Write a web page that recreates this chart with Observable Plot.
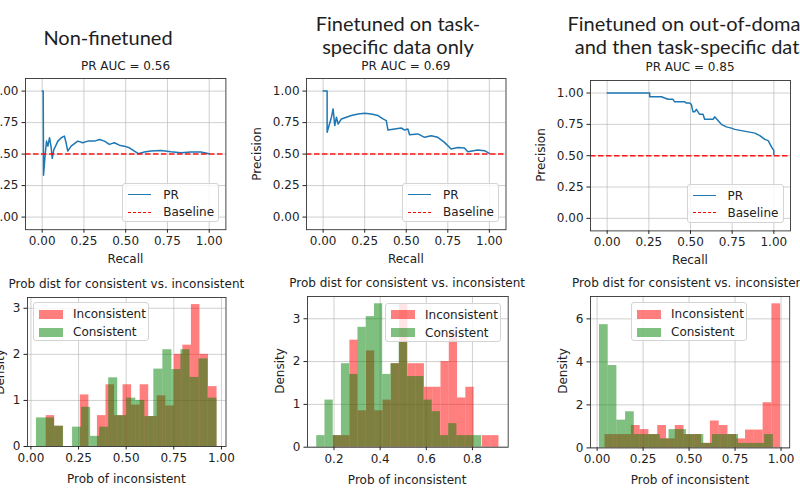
<!DOCTYPE html>
<html><head><meta charset="utf-8">
<script src="https://cdn.jsdelivr.net/npm/d3@7"></script>
<script src="https://cdn.jsdelivr.net/npm/@observablehq/plot@0.6"></script>
<style>
body{margin:0;background:#fff;}
#root{position:relative;width:800px;height:500px;overflow:hidden;font-family:"DejaVu Sans";background:#fff;}
.t{position:absolute;white-space:nowrap;font-size:12px;color:#222;transform:translate(-50%,-50%);line-height:1;}
.ty{position:absolute;white-space:nowrap;font-size:12px;color:#222;transform:translate(-50%,-50%) rotate(-90deg);line-height:1;}
.big{position:absolute;white-space:nowrap;font-family:Lato;font-size:20px;color:#1e1e1e;transform:translate(-50%,-50%);line-height:1;}
.leg{position:absolute;background:rgba(255,255,255,0.8);border:1px solid #d4d4d4;border-radius:3px;box-sizing:border-box;}
.leg .lt{position:absolute;font-size:12px;color:#222;white-space:nowrap;line-height:1;transform:translateY(-50%);}
.leg .ls{position:absolute;}
</style></head>
<body><div id="root"></div>
<script>
// ---------- Data ----------
const panelTitles = [["Non-finetuned"], ["Finetuned on task-", "specific data only"], ["Finetuned on out-of-domain", "and then task-specific data"]];
const aucLabels = ["PR AUC = 0.56", "PR AUC = 0.69", "PR AUC = 0.85"];
const histTitle = "Prob dist for consistent vs. inconsistent";
const prLegendLabels = ["PR", "Baseline"];
const histLegendLabels = ["Inconsistent", "Consistent"];
const baseline = 0.5;

const pr1Recall = [0, 0.006, 0.008, 0.018, 0.026, 0.034, 0.044, 0.054, 0.06, 0.07, 0.08, 0.094, 0.114, 0.133, 0.143, 0.153, 0.173, 0.213, 0.243, 0.273, 0.313, 0.343, 0.373, 0.402, 0.432, 0.462, 0.492, 0.522, 0.552, 0.576, 0.612, 0.651, 0.711, 0.771, 0.831, 0.89, 0.95, 1.0];
const pr1Precision = [1.0, 1.0, 0.333, 0.5, 0.603, 0.563, 0.63, 0.55, 0.466, 0.537, 0.563, 0.603, 0.63, 0.643, 0.59, 0.524, 0.563, 0.603, 0.59, 0.603, 0.603, 0.616, 0.603, 0.577, 0.59, 0.571, 0.563, 0.55, 0.524, 0.503, 0.516, 0.524, 0.529, 0.519, 0.511, 0.516, 0.516, 0.503];

const pr2Recall = [0, 0.024, 0.024, 0.05, 0.06, 0.07, 0.08, 0.09, 0.11, 0.14, 0.17, 0.21, 0.25, 0.29, 0.33, 0.36, 0.38, 0.39, 0.43, 0.47, 0.49, 0.51, 0.52, 0.57, 0.61, 0.65, 0.69, 0.73, 0.77, 0.81, 0.85, 0.87, 0.93, 0.97, 1.0];
const pr2Precision = [1.0, 1.0, 0.673, 0.793, 0.859, 0.726, 0.793, 0.739, 0.779, 0.793, 0.806, 0.819, 0.824, 0.819, 0.806, 0.779, 0.766, 0.691, 0.699, 0.707, 0.691, 0.699, 0.654, 0.66, 0.633, 0.646, 0.633, 0.593, 0.54, 0.553, 0.548, 0.519, 0.532, 0.527, 0.505];

const pr3Recall = [0, 0.255, 0.255, 0.325, 0.345, 0.365, 0.395, 0.405, 0.465, 0.475, 0.495, 0.505, 0.515, 0.525, 0.535, 0.555, 0.575, 0.585, 0.635, 0.645, 0.665, 0.685, 0.715, 0.745, 0.766, 0.806, 0.846, 0.886, 0.916, 0.946, 0.966, 0.986, 1.0, 1.0];
const pr3Precision = [1.0, 1.0, 0.97, 0.97, 0.96, 0.95, 0.95, 0.93, 0.93, 0.92, 0.92, 0.91, 0.85, 0.85, 0.87, 0.83, 0.83, 0.79, 0.79, 0.81, 0.78, 0.75, 0.73, 0.72, 0.71, 0.70, 0.69, 0.68, 0.66, 0.63, 0.62, 0.57, 0.54, 0.51];

// histogram densities (bin range + bar heights)
const h1IncRange = [0.080, 0.977];
const h1Inc = [0.67, 0.44, 0, 0, 1.12, 0, 0.67, 1.34, 0.67, 1.34, 0.9, 1.34, 0.65, 1.1, 0.88, 2.0, 2.2, 3.08, 2.0, 1.3];
const h1ConRange = [0.029, 0.977];
const h1Con = [0.62, 0.62, 0.44, 0, 0.42, 0.85, 0.22, 0.42, 1.49, 0.67, 1.05, 1.0, 0.65, 1.68, 2.1, 1.67, 2.1, 1.5, 1.9, 1.05];

const h2IncRange = [0.197, 0.915];
const h2Inc = [0.27, 0.27, 2.5, 0.85, 2.25, 0.85, 1.1, 1.95, 3.35, 1.95, 1.95, 1.4, 1.4, 2.0, 2.7, 1.15, 1.4, 0, 0.27, 0.27];
const h2ConRange = [0.125, 0.840];
const h2Con = [0.27, 1.1, 0.27, 1.95, 1.7, 2.8, 3.05, 3.35, 1.7, 1.95, 2.45, 1.65, 1.65, 1.1, 0.83, 0.27, 0.55, 0.27, 0.27, 0.27];

const h3IncRange = [0.043, 0.998];
const h3Inc = [0.62, 0.62, 0.62, 1.04, 0.85, 0.62, 1.04, 0.42, 1.04, 0.62, 0.62, 0.21, 1.25, 1.04, 0.62, 0.42, 0.83, 0.83, 2.1, 6.7];
const h3ConRange = [0.013, 0.958];
const h3Con = [5.73, 3.83, 1.29, 1.68, 0.62, 0.62, 0.62, 0.42, 0.85, 0.85, 0.62, 0.62, 0.21, 0.62, 0.62, 0.62, 0.21, 0.21, 0.21, 0.62];

const prTicks = [0, 0.25, 0.5, 0.75, 1];
const h13XTicks = [0, 0.25, 0.5, 0.75, 1];
const h2XTicks = [0.2, 0.4, 0.6, 0.8];
const h12YTicks = [0, 1, 2, 3];
const h3YTicks = [0, 2, 4, 6];

// ---------- Helpers ----------
const root = document.getElementById("root");
const BLUE = "#1f77b4";
function bins(heights, range) {
  const w = (range[1] - range[0]) / heights.length;
  return heights.map((h, i) => ({x1: range[0] + i * w, x2: range[0] + (i + 1) * w, y: h})).filter(d => d.y > 0);
}
function table(xs, ys) { return xs.map((x, i) => ({x, y: ys[i]})); }

function addPlot(frame, o, marks) {
  const [x0, y0, x1, y1] = frame;
  const ml = 50, mr = 10, mt = 10, mb = 30;
  const svg = Plot.plot({
    width: x1 - x0 + ml + mr, height: y1 - y0 + mt + mb,
    marginLeft: ml, marginRight: mr, marginTop: mt, marginBottom: mb,
    style: {fontFamily: "DejaVu Sans", fontSize: "12px", color: "#222", background: "transparent", overflow: "visible"},
    x: {domain: o.xDomain}, y: {domain: o.yDomain},
    marks: [
      Plot.gridX(o.xTicks, {stroke: "#b0b0b0", strokeOpacity: 0.75, strokeWidth: 0.8}),
      Plot.gridY(o.yTicks, {stroke: "#b0b0b0", strokeOpacity: 0.75, strokeWidth: 0.8}),
      ...marks,
      Plot.frame({stroke: "#333", strokeWidth: 0.9}),
      Plot.axisX(o.xTicks, {tickSize: 3.5, tickPadding: 3.5, tickFormat: o.xFmt, label: null, fontSize: 12}),
      Plot.axisY(o.yTicks, {tickSize: 3.5, tickPadding: 3.5, tickFormat: o.yFmt, label: null, fontSize: 12})
    ]
  });
  svg.style.position = "absolute";
  svg.style.left = (x0 - ml) + "px";
  svg.style.top = (y0 - mt) + "px";
  root.appendChild(svg);
}
function text(cls, s, x, y) {
  const d = document.createElement("div"); d.className = cls; d.textContent = s;
  d.style.left = x + "px"; d.style.top = y + "px"; root.appendChild(d);
}
function prLegend(left, top) {
  const d = document.createElement("div"); d.className = "leg";
  Object.assign(d.style, {left: left + "px", top: top + "px", width: "97px", height: "39px"});
  const rows = [{y: 11, style: "border-top:1.5px solid " + BLUE}, {y: 28.5, style: "border-top:1.5px dashed red"}];
  rows.forEach((r, i) => {
    const s = document.createElement("div"); s.className = "ls";
    s.style.cssText = `left:5px;top:${r.y - 0.75}px;width:23px;height:0;${r.style}`;
    d.appendChild(s);
    const t = document.createElement("div"); t.className = "lt"; t.textContent = prLegendLabels[i];
    t.style.left = "40px"; t.style.top = r.y + "px"; d.appendChild(t);
  });
  root.appendChild(d);
}
function histLegend(left, top) {
  const d = document.createElement("div"); d.className = "leg";
  Object.assign(d.style, {left: left + "px", top: top + "px", width: "116px", height: "39px"});
  const cols = ["rgba(255,0,0,0.5)", "rgba(0,128,0,0.5)"];
  [11, 29].forEach((y, i) => {
    const s = document.createElement("div"); s.className = "ls";
    s.style.cssText = `left:5px;top:${y - 4.5}px;width:24px;height:9px;background:${cols[i]};`;
    d.appendChild(s);
    const t = document.createElement("div"); t.className = "lt"; t.textContent = histLegendLabels[i];
    t.style.left = "39px"; t.style.top = y + "px"; d.appendChild(t);
  });
  root.appendChild(d);
}

const f2 = d3.format(".2f"), f1 = d3.format(".1f"), fd = d3.format("d");

// ---------- PR panels ----------
const prPanels = [
  {frame: [25.3, 78.1, 225.7, 229.3], r: pr1Recall, p: pr1Precision},
  {frame: [306.1, 78.1, 505.6, 229.3], r: pr2Recall, p: pr2Precision},
  {frame: [590, 79.8, 790, 230.2], r: pr3Recall, p: pr3Precision}
];
prPanels.forEach((P, i) => {
  addPlot(P.frame, {xDomain: [-0.1, 1.1], yDomain: [-0.1, 1.1], xTicks: prTicks, yTicks: prTicks, xFmt: f2, yFmt: f2}, [
    Plot.line(table(P.r, P.p), {x: "x", y: "y", stroke: BLUE, strokeWidth: 1.5, strokeLinejoin: "round"}),
    Plot.ruleY([baseline], {stroke: "red", strokeWidth: 1.5, strokeDasharray: "5.5,2.5", strokeOpacity: 0.9})
  ]);
  const [x0, y0, x1, y1] = P.frame, cx = (x0 + x1) / 2;
  text("t", aucLabels[i], cx, y0 - 12.5);
  text("t", "Recall", cx, y1 + 30);
  text("ty", "Precision", x0 - 48.7, (y0 + y1) / 2);
  prLegend(x1 - 103.5, y1 - 46.5);
});

// ---------- Histogram panels ----------
const histPanels = [
  {frame: [27.1, 297, 225.6, 446], xDomain: [-0.018, 1.024], yDomain: [0, 3.234], xTicks: h13XTicks, yTicks: h12YTicks, xFmt: f2,
   inc: bins(h1Inc, h1IncRange), con: bins(h1Con, h1ConRange), leg: [33, 302]},
  {frame: [306.8, 296, 507.5, 446.7], xDomain: [0.085, 0.955], yDomain: [0, 3.52], xTicks: h2XTicks, yTicks: h12YTicks, xFmt: f1,
   inc: bins(h2Inc, h2IncRange), con: bins(h2Con, h2ConRange), leg: [385, 302.5]},
  {frame: [590.4, 295.6, 789.6, 447], xDomain: [-0.036, 1.047], yDomain: [0, 7.04], xTicks: h13XTicks, yTicks: h3YTicks, xFmt: f2,
   inc: bins(h3Inc, h3IncRange), con: bins(h3Con, h3ConRange), leg: [631, 302]}
];
histPanels.forEach((H) => {
  addPlot(H.frame, {xDomain: H.xDomain, yDomain: H.yDomain, xTicks: H.xTicks, yTicks: H.yTicks, xFmt: H.xFmt, yFmt: fd}, [
    Plot.rect(H.inc, {x1: "x1", x2: "x2", y1: 0, y2: "y", fill: "#ff0000", fillOpacity: 0.5}),
    Plot.rect(H.con, {x1: "x1", x2: "x2", y1: 0, y2: "y", fill: "#008000", fillOpacity: 0.5})
  ]);
  const [x0, y0, x1, y1] = H.frame, cx = (x0 + x1) / 2;
  text("t", histTitle, cx, y0 - 13);
  text("t", "Prob of inconsistent", cx, y1 + 33);
  text("ty", "Density", x0 - 27, (y0 + y1) / 2);
  histLegend(H.leg[0], H.leg[1]);
});

// ---------- Big titles ----------
text("big", panelTitles[0][0], 108, 37);
text("big", panelTitles[1][0], 398, 23);
text("big", panelTitles[1][1], 398, 46);
text("big", panelTitles[2][0], 692, 23);
text("big", panelTitles[2][1], 692, 46);
</script></body></html>
